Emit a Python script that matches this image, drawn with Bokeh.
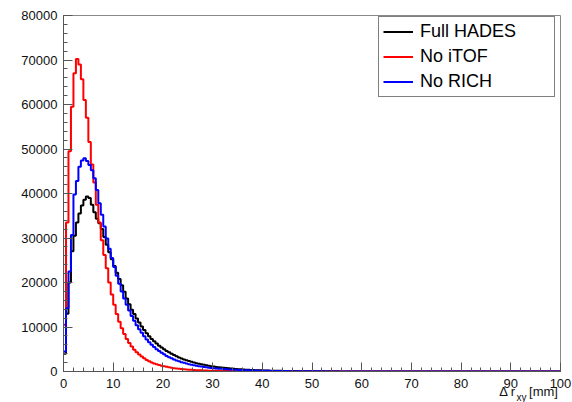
from bokeh.plotting import figure
from bokeh.models import (SingleIntervalTicker, NumeralTickFormatter, LinearAxis,
                          FixedTicker, Range1d)
from bokeh.embed import file_html
from bokeh.resources import INLINE

# Histogram: 200 bins of 0.5 mm from 0 to 100 mm
n_bins = 200
bin_width = 0.5

full_hades = [
    4000, 13000, 20000, 27000, 30500, 33500, 35500, 37300, 38600, 39300,
    39000, 37500, 35800, 34300, 33300, 32000, 30200, 28500, 26800, 25200,
    23700, 22200, 20800, 19400, 17900, 16400, 15100, 13900, 12900, 11900,
    11000, 10100, 9300, 8600, 7900, 7300, 6800, 6300, 5800, 5400,
    5000, 4600, 4300, 4000, 3700, 3400, 3150, 2930, 2720, 2530,
    2350, 2180, 2020, 1880, 1740, 1620, 1500, 1390, 1290, 1200,
    1110, 1030, 955, 885, 820, 760, 705, 655, 605, 560,
    520, 480, 445, 412, 382, 354, 328, 304, 282, 261,
    242, 224, 208, 193, 179, 166, 154, 143, 133, 123,
    114, 106, 98, 91, 85, 79, 73, 68, 63, 59,
    55, 51, 48, 45, 42, 39, 37, 35, 33, 31,
    29, 27, 26, 24, 23, 22, 21, 20, 19, 18,
    17, 16, 15, 15, 14, 13, 13, 12, 12, 11,
    11, 10, 10, 10, 9, 9, 9, 8, 8, 8,
    8, 7, 7, 7, 7, 6, 6, 6, 6, 6,
    5, 5, 5, 5, 5, 5, 4, 4, 4, 4,
    4, 4, 4, 4, 3, 3, 3, 3, 3, 3,
    3, 3, 3, 3, 3, 2, 2, 2, 2, 2,
    2, 2, 2, 2, 2, 2, 2, 2, 2, 2,
    2, 2, 2, 1, 1, 1, 1, 1, 1, 1,
]

no_itof = [
    10500, 33500, 49500, 59500, 67000, 70200, 69000, 65700, 61000, 57000,
    51600, 46500, 42500, 37500, 33500, 29500, 26200, 23200, 20000, 17300,
    15000, 12900, 11200, 9700, 8400, 7300, 6400, 5600, 4900, 4300,
    3800, 3350, 2950, 2600, 2300, 2050, 1820, 1620, 1450, 1300,
    1160, 1040, 930, 840, 750, 680, 610, 550, 500, 450,
    410, 370, 335, 305, 280, 255, 232, 212, 194, 178,
    163, 150, 138, 127, 117, 108, 100, 92, 85, 79,
    73, 68, 63, 58, 54, 50, 47, 44, 41, 38,
    36, 33, 31, 29, 27, 26, 24, 23, 21, 20,
    19, 18, 17, 16, 15, 14, 13, 13, 12, 11,
    11, 10, 10, 9, 9, 8, 8, 8, 7, 7,
    7, 6, 6, 6, 6, 5, 5, 5, 5, 5,
    4, 4, 4, 4, 4, 4, 3, 3, 3, 3,
    3, 3, 3, 3, 3, 2, 2, 2, 2, 2,
    2, 2, 2, 2, 2, 2, 2, 2, 2, 2,
    2, 1, 1, 1, 1, 1, 1, 1, 1, 1,
    1, 1, 1, 1, 1, 1, 1, 1, 1, 1,
    1, 1, 1, 1, 1, 1, 1, 1, 1, 1,
    1, 1, 1, 1, 1, 1, 1, 1, 1, 1,
    1, 1, 1, 1, 1, 1, 1, 1, 1, 1,
]

no_rich = [
    4500, 14200, 22500, 30700, 39800, 42800, 46000, 47400, 47900, 47300,
    46400, 45200, 43400, 40800, 37800, 35200, 32600, 29900, 27600, 25500,
    23500, 21500, 19700, 18000, 16400, 15000, 13700, 12500, 11400, 10400,
    9500, 8700, 7900, 7200, 6600, 6000, 5500, 5000, 4600, 4200,
    3850, 3500, 3200, 2950, 2700, 2500, 2300, 2100, 1950, 1800,
    1650, 1520, 1400, 1290, 1190, 1100, 1010, 930, 860, 800,
    740, 685, 635, 590, 545, 505, 470, 435, 405, 375,
    348, 323, 300, 278, 258, 240, 223, 207, 192, 178,
    165, 153, 142, 132, 123, 114, 106, 98, 91, 85,
    79, 73, 68, 63, 59, 55, 51, 47, 44, 41,
    38, 36, 33, 31, 29, 27, 25, 24, 22, 21,
    20, 19, 18, 17, 16, 15, 14, 14, 13, 12,
    12, 11, 11, 10, 10, 9, 9, 9, 8, 8,
    8, 7, 7, 7, 7, 6, 6, 6, 6, 5,
    5, 5, 5, 5, 5, 4, 4, 4, 4, 4,
    4, 4, 3, 3, 3, 3, 3, 3, 3, 3,
    3, 3, 2, 2, 2, 2, 2, 2, 2, 2,
    2, 2, 2, 2, 2, 2, 2, 2, 2, 2,
    2, 1, 1, 1, 1, 1, 1, 1, 1, 1,
    1, 1, 1, 1, 1, 1, 1, 1, 1, 1,
]

series_names = ["Full HADES", "No iTOF", "No RICH"]
series_colors = ["black", "#ff0000", "#0000ff"]
series_values = [full_hades, no_itof, no_rich]

x_ticks_interval = 10
y_ticks_interval = 10000

# x-axis title pieces: "Δ r", subscript "xy", "[mm]"
title_main = "Δ r"
title_sub = "xy"
title_unit = "[mm]"

edges = [i * bin_width for i in range(n_bins + 1)]

FONT = "Liberation Sans"
AXIS_COL = "#555555"
TXT_COL = "#111111"

p = figure(frame_width=497, frame_height=356, x_range=(0, 100), y_range=(0, 80000),
           output_backend="svg", toolbar_location=None,
           min_border_left=63, min_border_right=12,
           min_border_top=15, min_border_bottom=20)
p.background_fill_color = "white"
p.border_fill_color = "white"
p.outline_line_color = "#888888"
p.outline_line_width = 1
p.xgrid.visible = False
p.ygrid.visible = False

for name, col, vals in zip(series_names, series_colors, series_values):
    yv = list(vals) + [vals[-1]]
    p.step(x=edges, y=yv, mode="after", line_color=col, line_width=2,
           legend_label=name)

for ax in (p.xaxis[0], p.yaxis[0]):
    ax.axis_line_color = AXIS_COL
    ax.major_tick_line_color = AXIS_COL
    ax.minor_tick_line_color = AXIS_COL
    ax.major_tick_in = 9
    ax.major_tick_out = 0
    ax.minor_tick_in = 4
    ax.minor_tick_out = 0
    ax.major_label_text_font = FONT
    ax.major_label_text_font_size = "13px"
    ax.major_label_text_color = TXT_COL

p.xaxis[0].ticker = SingleIntervalTicker(interval=x_ticks_interval, num_minor_ticks=5)
p.yaxis[0].ticker = SingleIntervalTicker(interval=y_ticks_interval, num_minor_ticks=5)
p.yaxis[0].formatter = NumeralTickFormatter(format="0")
p.xaxis[0].major_label_standoff = 7
p.yaxis[0].major_label_standoff = 6

# x-axis title, right aligned under the axis end, drawn as tick labels of
# two helper axes that use a pixel-like range
p.extra_x_ranges = {"px": Range1d(63, 560)}
ax_title = LinearAxis(x_range_name="px", ticker=FixedTicker(ticks=[507, 543]),
                      major_label_overrides={507: title_main, 543: title_unit})
ax_sub = LinearAxis(x_range_name="px", ticker=FixedTicker(ticks=[521]),
                    major_label_overrides={521: title_sub})
for ax, fs, so in ((ax_title, "13px", -7), (ax_sub, "10px", -10)):
    ax.axis_line_color = None
    ax.major_tick_line_color = None
    ax.minor_tick_line_color = None
    ax.major_tick_out = 0
    ax.major_tick_in = 0
    ax.minor_tick_out = 0
    ax.minor_tick_in = 0
    ax.major_label_text_font = FONT
    ax.major_label_text_font_size = fs
    ax.major_label_text_color = TXT_COL
    ax.major_label_standoff = so
p.add_layout(ax_title, "below")
p.add_layout(ax_sub, "below")

lg = p.legend[0]
lg.location = (315, 274)
lg.margin = 0
lg.padding = 4
lg.spacing = 4
lg.glyph_width = 30
lg.glyph_height = 21
lg.label_height = 21
lg.label_width = 130
lg.label_standoff = 7
lg.label_text_font = FONT
lg.label_text_font_size = "18px"
lg.label_text_color = "black"
lg.border_line_color = "black"
lg.border_line_width = 1
lg.background_fill_color = "white"
lg.background_fill_alpha = 1.0

open("out.html", "w").write(file_html(p, INLINE))
